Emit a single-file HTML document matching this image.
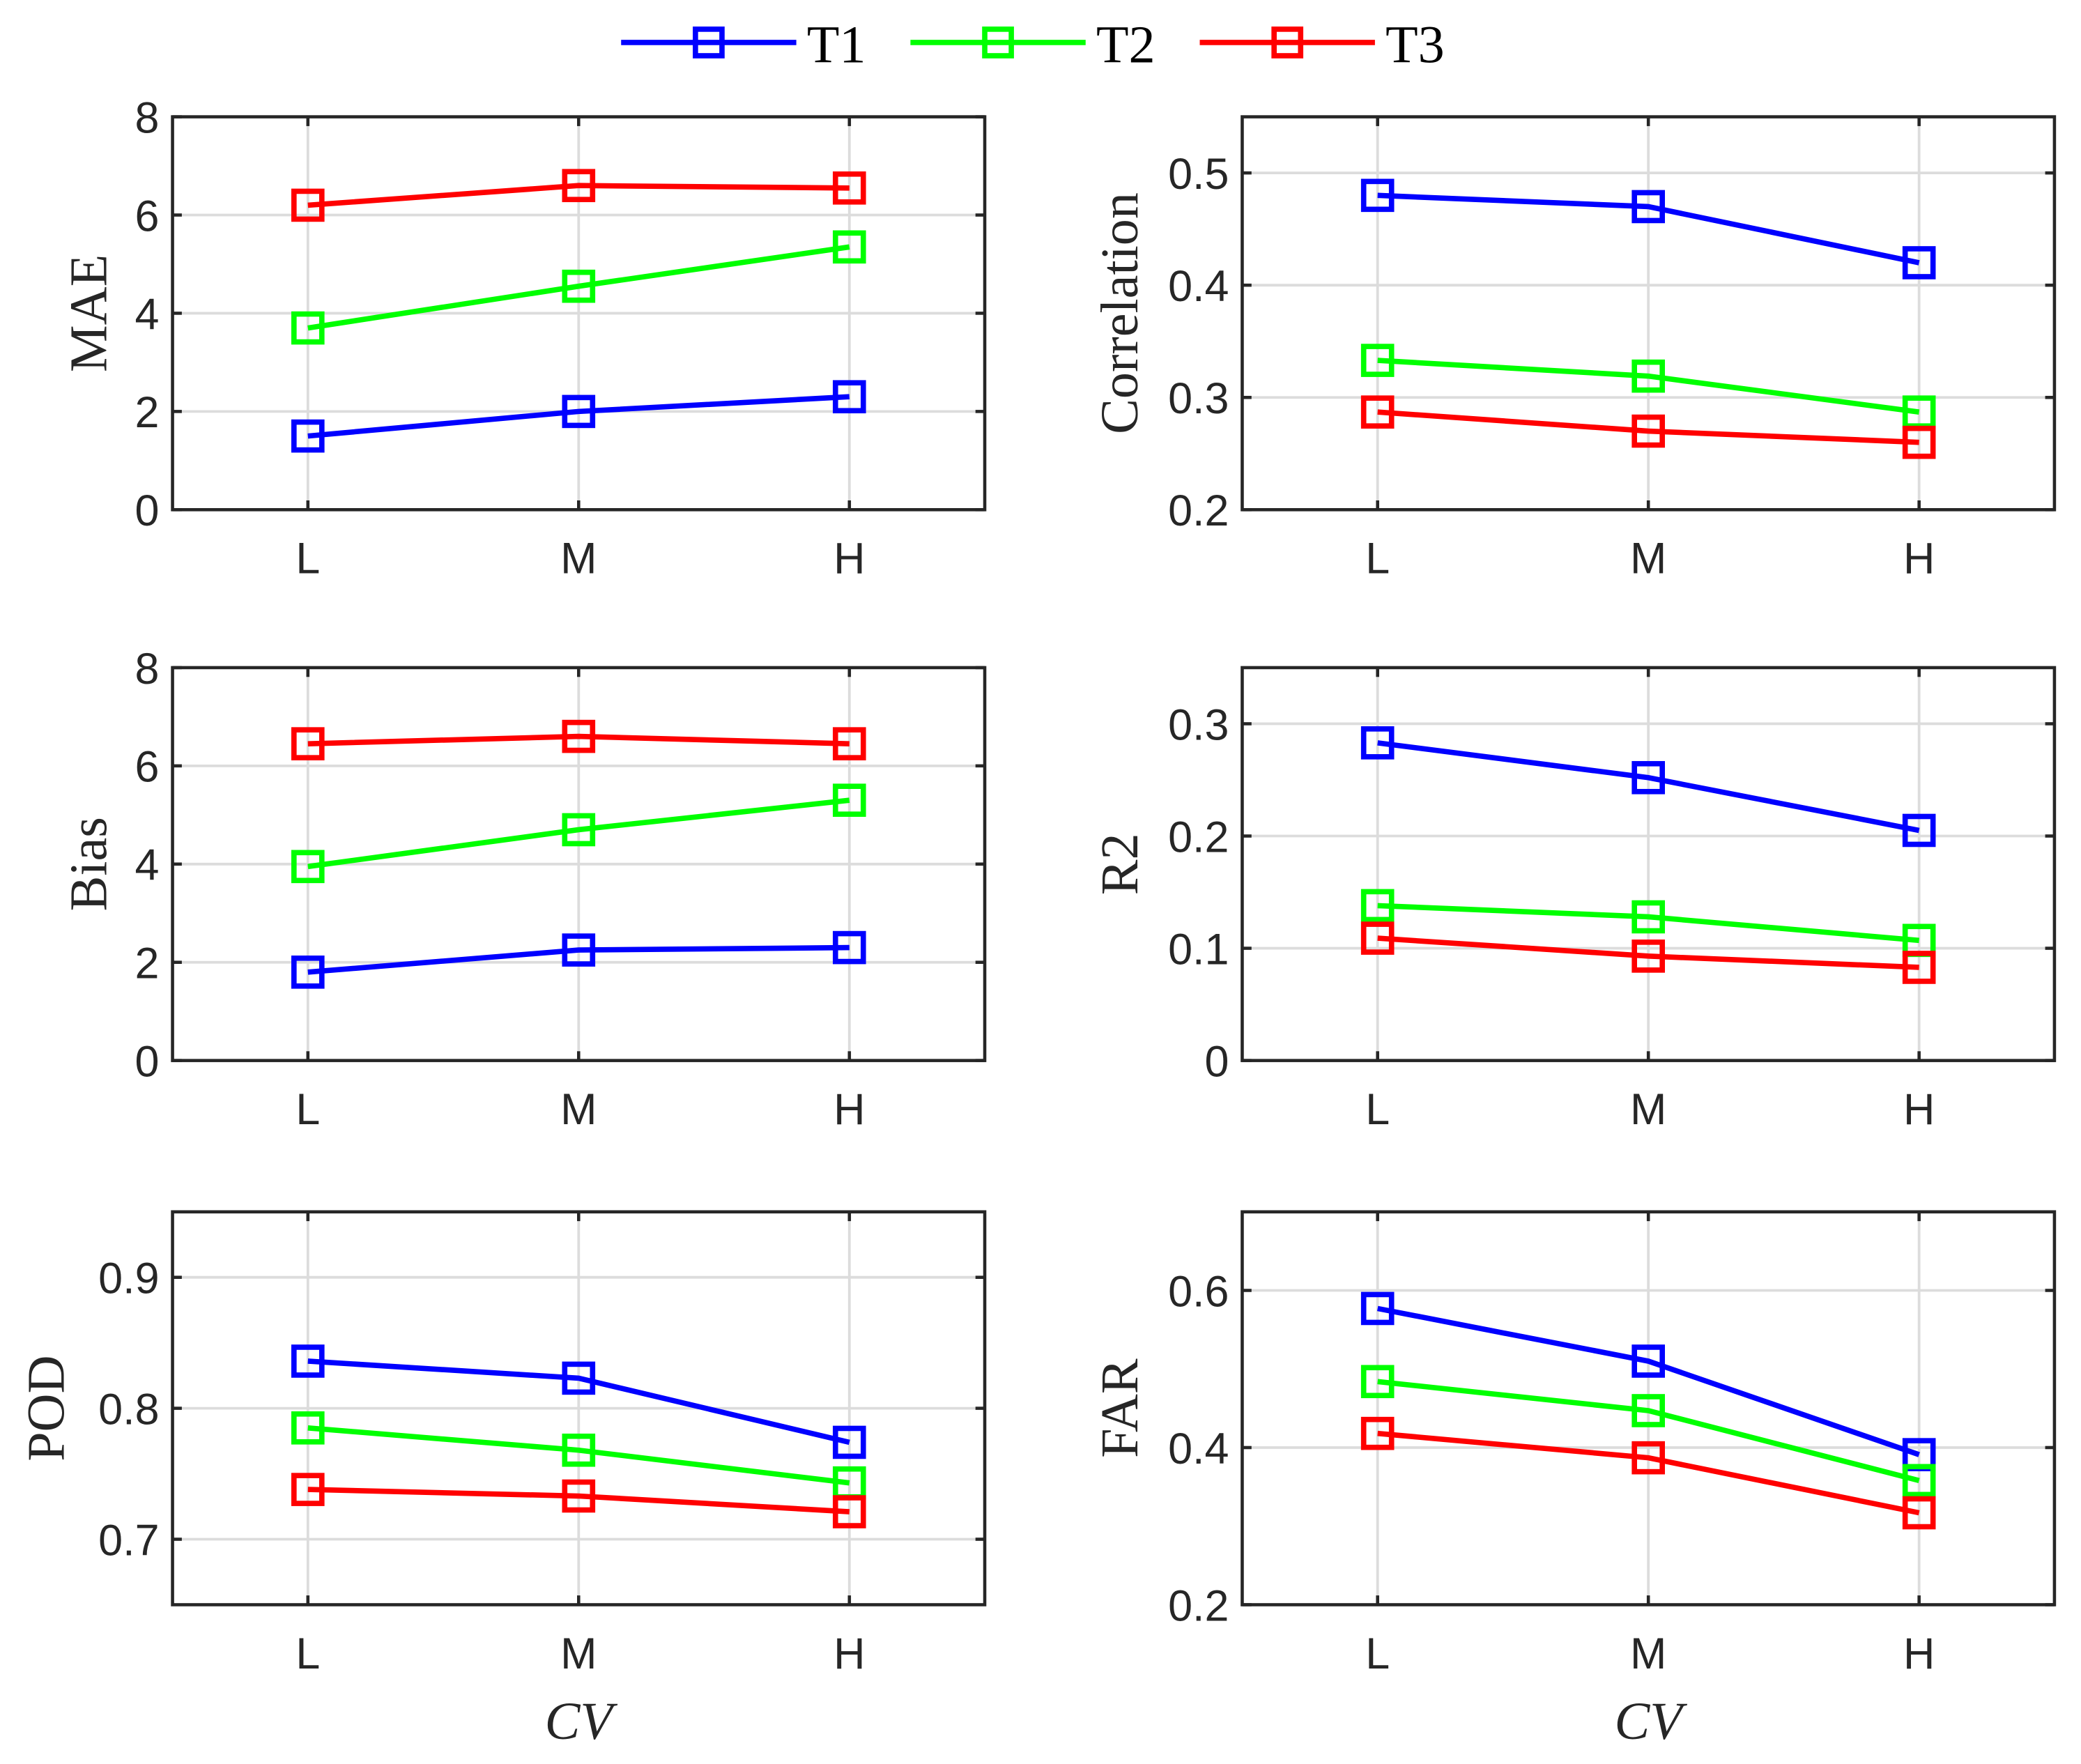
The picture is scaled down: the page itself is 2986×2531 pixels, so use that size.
<!DOCTYPE html>
<html><head><meta charset="utf-8"><style>html,body{margin:0;padding:0;background:#fff}svg{display:block}</style></head>
<body>
<svg id="chart" width="2986" height="2531" viewBox="0 0 1568 1329" preserveAspectRatio="none" xmlns="http://www.w3.org/2000/svg"></svg>
<script>
const categories = ["L","M","H"];
const seriesNames = ["T1","T2","T3"];
const seriesColors = ["#0000ff","#00ff00","#ff0000"];
const maeT1=[1.5,2.0,2.3], maeT2=[3.7,4.55,5.35], maeT3=[6.2,6.6,6.55];
const corrT1=[0.48,0.47,0.42], corrT2=[0.333,0.319,0.287], corrT3=[0.287,0.270,0.260];
const biasT1=[1.8,2.25,2.3], biasT2=[3.95,4.7,5.3], biasT3=[6.45,6.6,6.45];
const r2T1=[0.283,0.252,0.205], r2T2=[0.138,0.128,0.107], r2T3=[0.109,0.093,0.083];
const podT1=[0.836,0.823,0.774], podT2=[0.785,0.768,0.743], podT3=[0.738,0.733,0.721];
const farT1=[0.577,0.510,0.391], farT2=[0.484,0.447,0.358], farT3=[0.418,0.387,0.317];
const maeTicks=["0","2","4","6","8"], corrTicks=["0.2","0.3","0.4","0.5"], biasTicks=["0","2","4","6","8"];
const r2Ticks=["0","0.1","0.2","0.3"], podTicks=["0.7","0.8","0.9"], farTicks=["0.2","0.4","0.6"];

const NS="http://www.w3.org/2000/svg";
const svg=document.getElementById('chart');
function mk(tag,attrs,parent){const e=document.createElementNS(NS,tag);for(const k in attrs)e.setAttribute(k,attrs[k]);(parent||svg).appendChild(e);return e;}

const panels=[
 {name:"mae",label:"MAE",x0:130,y0:88,ymin:0,ymax:8,ticks:maeTicks,data:[maeT1,maeT2,maeT3],xl:false,lx:68},
 {name:"correlation",label:"Correlation",x0:936,y0:88,ymin:0.2,ymax:0.55,ticks:corrTicks,data:[corrT1,corrT2,corrT3],xl:false,lx:845},
 {name:"bias",label:"Bias",x0:130,y0:503,ymin:0,ymax:8,ticks:biasTicks,data:[biasT1,biasT2,biasT3],xl:false,lx:68},
 {name:"r2",label:"R2",x0:936,y0:503,ymin:0,ymax:0.35,ticks:r2Ticks,data:[r2T1,r2T2,r2T3],xl:false,lx:845},
 {name:"pod",label:"POD",x0:130,y0:913,ymin:0.65,ymax:0.95,ticks:podTicks,data:[podT1,podT2,podT3],xl:true,lx:36},
 {name:"far",label:"FAR",x0:936,y0:913,ymin:0.2,ymax:0.7,ticks:farTicks,data:[farT1,farT2,farT3],xl:true,lx:845}
];
const W=612,H=296;
panels.forEach(p=>{
  const g=mk('g',{});
  
  
  const xs=i=>p.x0+(i+0.5)*W/categories.length;
  const ys=v=>p.y0+H-(v-p.ymin)/(p.ymax-p.ymin)*H;
  categories.forEach((c,i)=>{
    mk('line',{x1:xs(i),x2:xs(i),y1:p.y0,y2:p.y0+H,stroke:'#dcdcdc','stroke-width':2},g);
  });
  p.ticks.forEach(t=>{
    const y=ys(parseFloat(t));
    mk('line',{x1:p.x0,x2:p.x0+W,y1:y,y2:y,stroke:'#dcdcdc','stroke-width':2},g);
  });
  const box=mk('rect',{x:p.x0,y:p.y0,width:W,height:H,fill:'none',stroke:'#262626','stroke-width':2.4},g);
  
  
  categories.forEach((c,i)=>{
    const x=xs(i);
    mk('line',{x1:x,x2:x,y1:p.y0+H,y2:p.y0+H-7,stroke:'#262626','stroke-width':2.4},g);
    mk('line',{x1:x,x2:x,y1:p.y0,y2:p.y0+7,stroke:'#262626','stroke-width':2.4},g);
    const t=mk('text',{x:x,y:p.y0+H+48,'text-anchor':'middle','font-family':'Liberation Sans, sans-serif','font-size':33,fill:'#262626'},g);
    t.textContent=c;
    
    
  });
  p.ticks.forEach(tk=>{
    const y=ys(parseFloat(tk));
    mk('line',{x1:p.x0,x2:p.x0+7,y1:y,y2:y,stroke:'#262626','stroke-width':2.4},g);
    mk('line',{x1:p.x0+W,x2:p.x0+W-7,y1:y,y2:y,stroke:'#262626','stroke-width':2.4},g);
    const t=mk('text',{x:p.x0-10,y:y+12,'text-anchor':'end','font-family':'Liberation Sans, sans-serif','font-size':33,fill:'#262626'},g);
    t.textContent=tk;
    
    
  });
  const lx=p.lx+12;
  const yl=mk('text',{x:lx,y:p.y0+H/2,'text-anchor':'middle','font-family':'Liberation Serif, serif','font-size':40,fill:'#262626',transform:`rotate(-90 ${lx} ${p.y0+H/2})`},g);
  yl.textContent=p.label;
  
  
  if(p.xl){
    const xl=mk('text',{x:p.x0+W/2,y:1310,'text-anchor':'middle','font-family':'Liberation Serif, serif','font-style':'italic','font-size':40,fill:'#262626'},g);
    xl.textContent='CV';
    
    
  }
  p.data.forEach((vals,s)=>{
    const pts=vals.map((v,i)=>xs(i)+','+ys(v)).join(' ');
    const pl=mk('polyline',{points:pts,fill:'none',stroke:seriesColors[s],'stroke-width':4},g);
    
    
    vals.forEach((v,i)=>{
      const r=mk('rect',{x:xs(i)-10.5,y:ys(v)-10.5,width:21,height:21,fill:'none',stroke:seriesColors[s],'stroke-width':4},g);
      
      
    });
  });
});
const lg=mk('g',{});


const legX=[468,686,904];
seriesNames.forEach((n,s)=>{
  const x=legX[s];
  const e=mk('g',{},lg);
  
  
  mk('line',{x1:x,x2:x+132,y1:32,y2:32,stroke:seriesColors[s],'stroke-width':4},e);
  mk('rect',{x:x+56,y:22,width:20,height:20,fill:'none',stroke:seriesColors[s],'stroke-width':4},e);
  const t=mk('text',{x:x+140,y:47,'font-family':'Liberation Serif, serif','font-size':40,fill:'#000'},e);
  t.textContent=n;
});
</script>
</body></html>
